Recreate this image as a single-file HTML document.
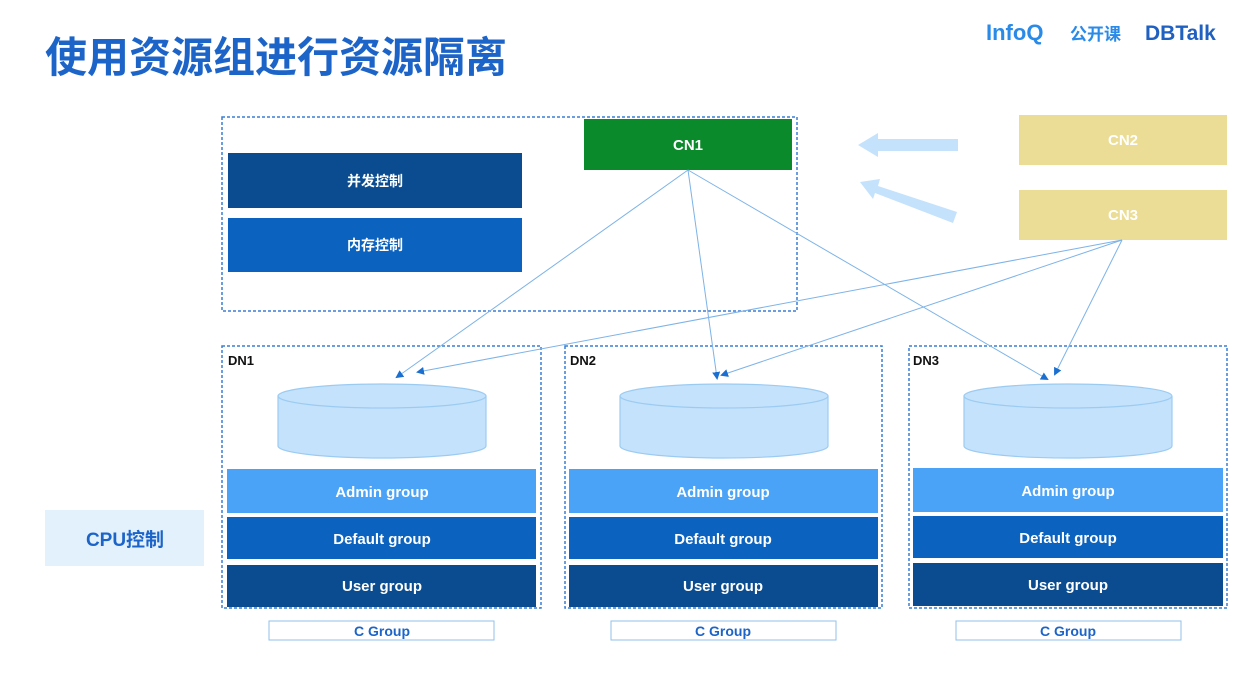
<!DOCTYPE html>
<html><head><meta charset="utf-8"><style>
html,body{margin:0;padding:0;background:#fff;width:1259px;height:684px;overflow:hidden}
svg text{font-family:"Liberation Sans","Noto Sans CJK SC",sans-serif;font-weight:bold}
</style></head><body>
<svg width="1259" height="684" viewBox="0 0 1259 684" xmlns="http://www.w3.org/2000/svg">
<defs>
<marker id="ar" markerWidth="8" markerHeight="8" refX="6" refY="4" orient="auto" markerUnits="userSpaceOnUse">
<path d="M0,0 L8,4 L0,8 z" fill="#1a6fd0"/></marker>
</defs>
<text x="45" y="72" font-size="42" fill="#1c64c8">使用资源组进行资源隔离</text>
<text x="986" y="40" font-size="22" fill="#2a8ae8">InfoQ</text>
<text x="1070" y="40" font-size="17" fill="#2a8ae8">公开课</text>
<text x="1145" y="40" font-size="21" fill="#2060c0">DBTalk</text>

<rect x="222" y="117" width="575" height="194" fill="none" stroke="#3a7fd5" stroke-width="1.5" stroke-dasharray="3,2"/>
<rect x="228" y="153" width="294" height="55" fill="#0a4c8f"/>
<text x="375" y="186" font-size="14" fill="#fff" text-anchor="middle">并发控制</text>
<rect x="228" y="218" width="294" height="54" fill="#0b62bf"/>
<text x="375" y="250" font-size="14" fill="#fff" text-anchor="middle">内存控制</text>
<rect x="584" y="119" width="208" height="51" fill="#0a8a2a"/>
<text x="688" y="150" font-size="15" fill="#fff" text-anchor="middle">CN1</text>

<rect x="1019" y="115" width="208" height="50" fill="#ebdd95"/>
<text x="1123" y="145" font-size="15" fill="#fff" text-anchor="middle">CN2</text>
<rect x="1019" y="190" width="208" height="50" fill="#ebdd95"/>
<text x="1123" y="220" font-size="15" fill="#fff" text-anchor="middle">CN3</text>

<path d="M958,139 L878,139 L878,133 L858,145 L878,157 L878,151 L958,151 z" fill="#c4e2fb"/>
<path d="M957,212 L878,186 L880,179 L860,182 L873,199 L875,193 L953,223 z" fill="#c4e2fb"/>

<text x="228" y="365" font-size="13" fill="#111">DN1</text>
<text x="570" y="365" font-size="13" fill="#111">DN2</text>
<text x="913" y="365" font-size="13" fill="#111">DN3</text>

<rect x="222" y="346" width="319" height="262" fill="none" stroke="#3a7fd5" stroke-width="1.5" stroke-dasharray="3,2"/>
<rect x="565" y="346" width="317" height="262" fill="none" stroke="#3a7fd5" stroke-width="1.5" stroke-dasharray="3,2"/>
<rect x="909" y="346" width="318" height="262" fill="none" stroke="#3a7fd5" stroke-width="1.5" stroke-dasharray="3,2"/>

<g fill="#c4e2fb" stroke="#9ccbf2" stroke-width="1.2">
<path d="M278,396 L278,446 A104,12 0 0 0 486,446 L486,396"/>
<ellipse cx="382" cy="396" rx="104" ry="12"/>
<path d="M620,396 L620,446 A104,12 0 0 0 828,446 L828,396"/>
<ellipse cx="724" cy="396" rx="104" ry="12"/>
<path d="M964,396 L964,446 A104,12 0 0 0 1172,446 L1172,396"/>
<ellipse cx="1068" cy="396" rx="104" ry="12"/>
</g>

<g font-size="15" text-anchor="middle">
<rect x="227" y="469" width="309" height="44" fill="#4aa3f7"/><text x="382" y="497" fill="#fff">Admin group</text>
<rect x="227" y="517" width="309" height="42" fill="#0b62bf"/><text x="382" y="544" fill="#fff">Default group</text>
<rect x="227" y="565" width="309" height="42" fill="#0a4c8f"/><text x="382" y="591" fill="#fff">User group</text>
<rect x="569" y="469" width="309" height="44" fill="#4aa3f7"/><text x="723" y="497" fill="#fff">Admin group</text>
<rect x="569" y="517" width="309" height="42" fill="#0b62bf"/><text x="723" y="544" fill="#fff">Default group</text>
<rect x="569" y="565" width="309" height="42" fill="#0a4c8f"/><text x="723" y="591" fill="#fff">User group</text>
<rect x="913" y="468" width="310" height="44" fill="#4aa3f7"/><text x="1068" y="496" fill="#fff">Admin group</text>
<rect x="913" y="516" width="310" height="42" fill="#0b62bf"/><text x="1068" y="543" fill="#fff">Default group</text>
<rect x="913" y="563" width="310" height="43" fill="#0a4c8f"/><text x="1068" y="590" fill="#fff">User group</text>
</g>

<g font-size="14" text-anchor="middle" fill="#1c64c8">
<rect x="269" y="621" width="225" height="19" fill="#fff" stroke="#8fc0ee"/><text x="382" y="636">C Group</text>
<rect x="611" y="621" width="225" height="19" fill="#fff" stroke="#8fc0ee"/><text x="723" y="636">C Group</text>
<rect x="956" y="621" width="225" height="19" fill="#fff" stroke="#8fc0ee"/><text x="1068" y="636">C Group</text>
</g>

<rect x="45" y="510" width="159" height="56" fill="#e3f1fd"/>
<text x="125" y="546" font-size="19" fill="#1c64c8" text-anchor="middle">CPU控制</text>

<g stroke="#7db3e8" stroke-width="1" fill="none" marker-end="url(#ar)">
<line x1="688" y1="170" x2="397" y2="377"/>
<line x1="688" y1="170" x2="717" y2="378"/>
<line x1="688" y1="170" x2="1047" y2="379"/>
<line x1="1122" y1="240" x2="418" y2="372"/>
<line x1="1122" y1="240" x2="722" y2="375"/>
<line x1="1122" y1="240" x2="1055" y2="374"/>
</g>
</svg>
</body></html>
